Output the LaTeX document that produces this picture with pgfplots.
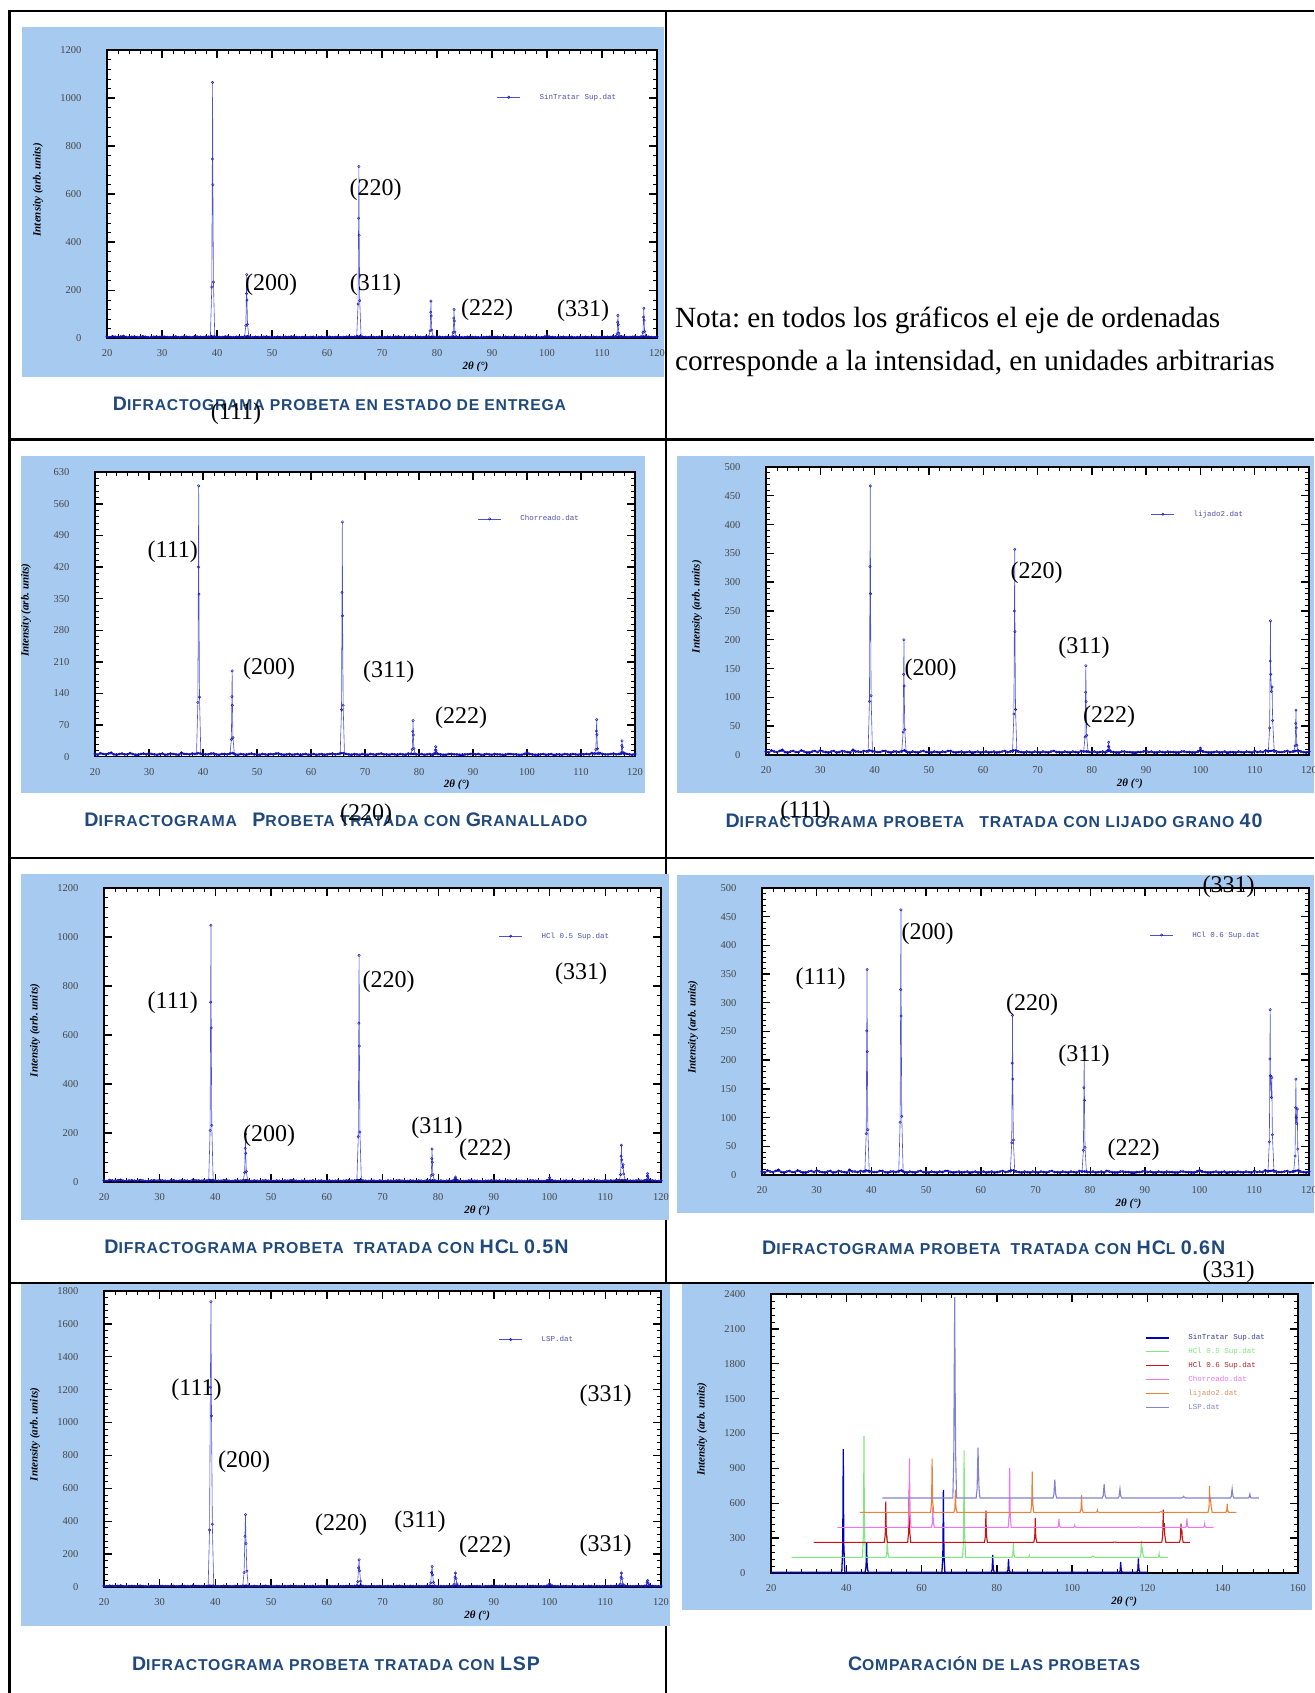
\documentclass[border=0pt]{standalone}
\usepackage{fontspec}
\setmainfont{Liberation Serif}
\setsansfont{Liberation Sans}
\setmonofont{Liberation Mono}
\newfontfamily\capfont{Liberation Sans}[LetterSpace=5]
\usepackage{graphicx}
\usepackage{pgfplots}
\usepackage{pgfplotstable}
\pgfplotsset{compat=1.18}
\definecolor{bgblue}{RGB}{166,202,240}
\definecolor{capblue}{RGB}{31,73,125}
\definecolor{xrdline}{RGB}{80,80,215}
\definecolor{xrdmark}{RGB}{20,20,190}
\definecolor{xrdbase}{RGB}{10,10,170}
\definecolor{legtext}{RGB}{80,80,170}
\definecolor{ticktext}{RGB}{70,70,70}
\definecolor{cA}{RGB}{0,0,190}
\definecolor{cB}{RGB}{130,230,130}
\definecolor{cC}{RGB}{200,20,20}
\definecolor{cD}{RGB}{235,120,235}
\definecolor{cE}{RGB}{235,130,60}
\definecolor{cF}{RGB}{130,130,210}
\definecolor{tA}{RGB}{60,60,150}
\definecolor{tC}{RGB}{170,40,40}
\definecolor{tE}{RGB}{210,150,100}
\newcommand{\capbig}[1]{{\fontsize{18}{20}\selectfont #1}}

\pgfplotstableread[row sep=\\]{x y\\
20 6\\ 20.5 4\\ 21 8\\ 21.5 6\\ 22 5\\ 22.5 7\\ 23 9\\ 23.5 5\\ 24 4\\ 24.5 6\\ 25 7\\ 25.5 5\\ 26 5\\ 26.5 8\\ 27 6\\ 27.5 4\\ 28 4\\ 28.5 6\\ 29 7\\ 29.5 5\\
30 8\\ 30.5 6\\ 31 5\\ 31.5 4\\ 32 6\\ 32.5 7\\ 33 4\\ 33.5 5\\ 34 7\\ 34.5 6\\ 35 5\\ 35.5 4\\ 36 9\\ 36.5 6\\ 37 6\\ 37.5 5\\ 38 7\\ 38.5 6\\ 39 8\\ 39.5 7\\
40 6\\ 40.5 5\\ 41 5\\ 41.5 7\\ 42 7\\ 42.5 5\\ 43 4\\ 43.5 6\\ 44 6\\ 44.5 5\\ 45 7\\ 45.5 8\\ 46 5\\ 46.5 4\\ 47 6\\ 47.5 5\\ 48 4\\ 48.5 6\\ 49 7\\ 49.5 5\\
50 5\\ 50.5 4\\ 51 6\\ 51.5 5\\ 52 4\\ 52.5 6\\ 53 5\\ 53.5 7\\ 54 7\\ 54.5 5\\ 55 4\\ 55.5 5\\ 56 6\\ 56.5 4\\ 57 5\\ 57.5 6\\ 58 3\\ 58.5 5\\ 59 6\\ 59.5 4\\
60 5\\ 60.5 6\\ 61 4\\ 61.5 5\\ 62 6\\ 62.5 4\\ 63 5\\ 63.5 6\\ 64 7\\ 64.5 5\\ 65 6\\ 65.5 8\\ 66 8\\ 66.5 6\\ 67 5\\ 67.5 4\\ 68 6\\ 68.5 5\\ 69 4\\ 69.5 6\\
70 5\\ 70.5 4\\ 71 6\\ 71.5 5\\ 72 4\\ 72.5 6\\ 73 7\\ 73.5 5\\ 74 5\\ 74.5 4\\ 75 6\\ 75.5 5\\ 76 4\\ 76.5 6\\ 77 5\\ 77.5 4\\ 78 7\\ 78.5 6\\ 79 6\\ 79.5 5\\
80 5\\ 80.5 6\\ 81 4\\ 81.5 5\\ 82 6\\ 82.5 4\\ 83 7\\ 83.5 6\\ 84 5\\ 84.5 4\\ 85 4\\ 85.5 6\\ 86 6\\ 86.5 5\\ 87 5\\ 87.5 4\\ 88 3\\ 88.5 5\\ 89 5\\ 89.5 6\\
90 7\\ 90.5 5\\ 91 6\\ 91.5 4\\ 92 4\\ 92.5 6\\ 93 5\\ 93.5 4\\ 94 6\\ 94.5 5\\ 95 5\\ 95.5 4\\ 96 4\\ 96.5 6\\ 97 6\\ 97.5 5\\ 98 5\\ 98.5 4\\ 99 4\\ 99.5 6\\
100 8\\ 100.5 6\\ 101 5\\ 101.5 4\\ 102 4\\ 102.5 5\\ 103 6\\ 103.5 4\\ 104 5\\ 104.5 6\\ 105 3\\ 105.5 5\\ 106 5\\ 106.5 4\\ 107 6\\ 107.5 5\\ 108 4\\ 108.5 6\\ 109 5\\ 109.5 4\\
110 7\\ 110.5 5\\ 111 6\\ 111.5 5\\ 112 8\\ 112.5 7\\ 113 7\\ 113.5 8\\ 114 6\\ 114.5 5\\ 115 5\\ 115.5 6\\ 116 7\\ 116.5 5\\ 117 6\\ 117.5 7\\ 118 8\\ 118.5 6\\ 119 5\\ 119.5 4\\ 120 6\\
}\base

% SinTratar Sup.dat
\pgfplotstableread[row sep=\\]{x y\\
20 6\\
38.8 6\\ 39.05 213\\ 39.15 746\\ 39.2 1065\\ 39.25 639\\ 39.35 234\\ 39.6 6\\
45.0 6\\ 45.25 53\\ 45.35 186\\ 45.4 265\\ 45.45 159\\ 45.55 58\\ 45.8 6\\
65.4 6\\ 65.65 143\\ 65.75 500\\ 65.8 715\\ 65.85 429\\ 65.95 157\\ 66.2 6\\
78.5 6\\ 78.75 31\\ 78.85 109\\ 78.9 155\\ 78.95 93\\ 79.05 34\\ 79.3 6\\
82.7 6\\ 82.95 24\\ 83.05 84\\ 83.1 120\\ 83.15 72\\ 83.25 26\\ 83.5 6\\
99.6 6\\ 100 12\\ 100.4 6\\
112.5 6\\ 112.75 19\\ 112.85 67\\ 112.9 95\\ 112.95 57\\ 113.05 21\\ 113.3 6\\
117.2 6\\ 117.45 25\\ 117.55 88\\ 117.6 125\\ 117.65 75\\ 117.75 28\\ 118 6\\
120 6\\
}\tabA

% Chorreado.dat
\pgfplotstableread[row sep=\\]{x y\\
20 6\\
38.8 6\\ 39.05 120\\ 39.15 420\\ 39.2 600\\ 39.25 360\\ 39.35 132\\ 39.6 6\\
45.0 6\\ 45.25 38\\ 45.35 133\\ 45.4 190\\ 45.45 114\\ 45.55 42\\ 45.8 6\\
65.4 6\\ 65.65 104\\ 65.75 364\\ 65.8 520\\ 65.85 312\\ 65.95 114\\ 66.2 6\\
78.5 6\\ 78.75 16\\ 78.85 56\\ 78.9 80\\ 78.95 48\\ 79.05 18\\ 79.3 6\\
82.7 6\\ 82.95 8\\ 83.05 15\\ 83.1 22\\ 83.15 14\\ 83.25 9\\ 83.5 6\\
99.6 6\\ 100 10\\ 100.4 6\\
112.5 6\\ 112.75 16\\ 112.85 57\\ 112.9 82\\ 112.95 49\\ 113.05 18\\ 113.3 6\\
117.2 6\\ 117.45 9\\ 117.55 25\\ 117.6 35\\ 117.65 21\\ 117.75 10\\ 118 6\\
120 6\\
}\tabB

% lijado2.dat
\pgfplotstableread[row sep=\\]{x y\\
20 6\\
38.8 6\\ 39.05 93\\ 39.15 327\\ 39.2 467\\ 39.25 280\\ 39.35 103\\ 39.6 6\\
45.0 6\\ 45.25 40\\ 45.35 140\\ 45.4 200\\ 45.45 120\\ 45.55 44\\ 45.8 6\\
65.4 6\\ 65.65 71\\ 65.75 250\\ 65.8 357\\ 65.85 214\\ 65.95 79\\ 66.2 6\\
78.5 6\\ 78.75 31\\ 78.85 109\\ 78.9 155\\ 78.95 93\\ 79.05 34\\ 79.3 6\\
82.7 6\\ 82.95 8\\ 83.05 15\\ 83.1 22\\ 83.15 14\\ 83.25 9\\ 83.5 6\\
99.6 6\\ 100 12\\ 100.4 6\\
112.5 6\\ 112.75 47\\ 112.85 163\\ 112.9 233\\ 112.95 140\\ 113.1 110\\ 113.2 118\\ 113.3 60\\ 113.6 6\\
117.2 6\\ 117.45 16\\ 117.55 55\\ 117.6 78\\ 117.65 47\\ 117.75 17\\ 118 6\\
120 6\\
}\tabC

% HCl 0.5 Sup.dat
\pgfplotstableread[row sep=\\]{x y\\
20 6\\
38.8 6\\ 39.05 210\\ 39.15 734\\ 39.2 1048\\ 39.25 629\\ 39.35 231\\ 39.6 6\\
45.0 6\\ 45.25 39\\ 45.35 137\\ 45.4 195\\ 45.45 117\\ 45.55 43\\ 45.8 6\\
65.4 6\\ 65.65 185\\ 65.75 648\\ 65.8 925\\ 65.85 555\\ 65.95 204\\ 66.2 6\\
78.5 6\\ 78.75 27\\ 78.85 95\\ 78.9 135\\ 78.95 81\\ 79.05 30\\ 79.3 6\\
82.7 6\\ 82.95 8\\ 83.05 14\\ 83.1 20\\ 83.15 12\\ 83.25 8\\ 83.5 6\\
99.6 6\\ 100 18\\ 100.4 6\\
112.5 6\\ 112.75 30\\ 112.85 105\\ 112.9 150\\ 112.95 90\\ 113.1 60\\ 113.2 70\\ 113.3 33\\ 113.6 6\\
117.2 6\\ 117.45 9\\ 117.55 25\\ 117.6 35\\ 117.65 21\\ 117.75 10\\ 118 6\\
120 6\\
}\tabD

% HCl 0.6 Sup.dat
\pgfplotstableread[row sep=\\]{x y\\
20 6\\
38.8 6\\ 39.05 72\\ 39.15 251\\ 39.2 358\\ 39.25 215\\ 39.35 79\\ 39.6 6\\
45.0 6\\ 45.25 92\\ 45.35 323\\ 45.4 462\\ 45.45 277\\ 45.55 102\\ 45.8 6\\
65.4 6\\ 65.65 56\\ 65.75 195\\ 65.8 278\\ 65.85 167\\ 65.95 61\\ 66.2 6\\
78.5 6\\ 78.75 43\\ 78.85 152\\ 78.9 217\\ 78.95 130\\ 79.05 48\\ 79.3 6\\
99.6 6\\ 100 8\\ 100.4 6\\
112.5 6\\ 112.75 58\\ 112.85 202\\ 112.9 288\\ 112.95 173\\ 113.1 135\\ 113.2 170\\ 113.3 70\\ 113.6 6\\
117.2 6\\ 117.45 33\\ 117.55 117\\ 117.6 167\\ 117.65 100\\ 117.75 90\\ 117.85 115\\ 117.95 45\\ 118.2 6\\
120 6\\
}\tabE

% LSP.dat
\pgfplotstableread[row sep=\\]{x y\\
20 6\\
38.7 6\\ 38.95 347\\ 39.1 1215\\ 39.2 1735\\ 39.3 1041\\ 39.45 382\\ 39.7 6\\
44.9 6\\ 45.15 88\\ 45.3 308\\ 45.4 440\\ 45.5 264\\ 45.65 97\\ 45.9 6\\
65.3 6\\ 65.55 33\\ 65.7 116\\ 65.8 165\\ 65.9 99\\ 66.05 36\\ 66.3 6\\
78.4 6\\ 78.65 25\\ 78.8 88\\ 78.9 125\\ 79.0 75\\ 79.15 28\\ 79.4 6\\
82.6 6\\ 82.85 17\\ 83.0 60\\ 83.1 85\\ 83.2 51\\ 83.35 19\\ 83.6 6\\
99.5 6\\ 99.8 12\\ 100 20\\ 100.2 12\\ 100.5 6\\
112.4 6\\ 112.65 17\\ 112.8 60\\ 112.9 85\\ 113.0 51\\ 113.15 19\\ 113.4 6\\
117.1 6\\ 117.35 8\\ 117.5 28\\ 117.6 40\\ 117.7 24\\ 117.85 9\\ 118.1 6\\
120 6\\
}\tabF

\pgfplotsset{
 xrdaxis/.style={
  scale only axis,
  axis background/.style={fill=white},
  tick align=inside,
  major tick length=8pt,
  minor tick length=4pt,
  every major tick/.append style={line width=1.4pt,black},
  every minor tick/.append style={line width=0.6pt,black},
  axis line style={line width=1.6pt},
  minor x tick num=4, minor y tick num=4,
  tick label style={font=\fontsize{10.5}{12}\selectfont, text=ticktext},
  yticklabel style={xshift=-22pt},
  xticklabel style={yshift=-8.2pt},
  /pgf/number format/assume math mode=true,
  /pgf/number format/1000 sep={},
  scaled ticks=false,
  xlabel={\textbf{\textit{2θ (°)}}},
  ylabel={\textbf{\textit{Intensity (arb. units)}}},
  label style={font=\fontsize{11}{13}\selectfont},
  xlabel style={at={(axis description cs:0.67,0)}, anchor=center, yshift=-28.5pt},
  legend style={draw=none, fill=none, inner sep=0pt, outer sep=0pt,
    font=\fontsize{7.5}{9}\selectfont\ttfamily, text=legtext, nodes={inner sep=0pt}},
  legend cell align=left,
  legend image code/.code={\draw[mark repeat=2,mark phase=2,##1] plot coordinates {(0pt,0pt) (11.5pt,0pt) (23pt,0pt)}; \path (42pt,0pt);},
 },
 single/.style={xrdaxis, xmin=20, xmax=120, xtick={20,30,...,120}, ymin=0,
   legend style={at={(axis description cs:0.709,0.836)}, anchor=west}},
 xrd/.style={color=xrdline, line width=0.6pt, mark=o, mark size=1.2pt, mark options={color=xrdmark, line width=0.45pt}},
 xrdb/.style={color=xrdbase, line width=1.6pt, mark=o, mark size=1.1pt, mark options={line width=0.45pt}},
}

\begin{document}
\frenchspacing
\begin{tikzpicture}[x=1pt,y=1pt]
\path[use as bounding box] (0,0) rectangle (1314,1693);
% table grid
\draw[line width=2.2pt] (1314,1682) -- (9.5,1682) -- (9.5,0);
\draw[line width=2.2pt] (666,1682) -- (666,0);
\draw[line width=2.2pt] (9.5,1253.5) -- (1314,1253.5);
\draw[line width=2.2pt] (9.5,835) -- (1314,835);
\draw[line width=2.2pt] (9.5,410) -- (1314,410);
% chart backgrounds
\fill[bgblue] (21.6,1316) rectangle (664,1666);
\fill[bgblue] (21,900) rectangle (645,1237);
\fill[bgblue] (677,900) rectangle (1314,1237);
\fill[bgblue] (21,473) rectangle (669,819);
\fill[bgblue] (677,480) rectangle (1314,818);
\fill[bgblue] (21,67) rectangle (670,408.8);
\fill[bgblue] (682,83) rectangle (1312,408.8);

% 1 Entrega
\begin{axis}[single, at={(107pt,1354.7pt)}, anchor=south west, width=550pt, height=288.3pt,
  ymax=1200, ytick={0,200,...,1200},
  ylabel style={at={(axis description cs:-0.1255,0.515)}, anchor=center}]
\addplot[xrdb, forget plot] table {\base};
\addplot[xrd] table {\tabA};
\addlegendentry{SinTratar Sup.dat}
\end{axis}

% 2 Granallado
\begin{axis}[single, at={(95pt,936.3pt)}, anchor=south west, width=540pt, height=284.4pt,
  ymax=630, ytick={0,70,...,630},
  ylabel style={at={(axis description cs:-0.1278,0.515)}, anchor=center}]
\addplot[xrdb, forget plot] table {\base};
\addplot[xrd] table {\tabB};
\addlegendentry{Chorreado.dat}
\end{axis}

% 3 Lijado
\begin{axis}[single, at={(766pt,938pt)}, anchor=south west, width=543pt, height=288pt,
  ymax=500, ytick={0,50,...,500},
  ylabel style={at={(axis description cs:-0.1271,0.515)}, anchor=center}]
\addplot[xrdb, forget plot] table {\base};
\addplot[xrd] table {\tabC};
\addlegendentry{lijado2.dat}
\end{axis}

% 4 HCl 0.5
\begin{axis}[single, at={(104pt,511pt)}, anchor=south west, width=557pt, height=294pt,
  ymax=1200, ytick={0,200,...,1200},
  ylabel style={at={(axis description cs:-0.1239,0.515)}, anchor=center}]
\addplot[xrdb, forget plot] table {\base};
\addplot[xrd] table {\tabD};
\addlegendentry{HCl 0.5 Sup.dat}
\end{axis}

% 5 HCl 0.6
\begin{axis}[single, at={(762pt,518pt)}, anchor=south west, width=547pt, height=287pt,
  ymax=500, ytick={0,50,...,500},
  ylabel style={at={(axis description cs:-0.1261,0.515)}, anchor=center}]
\addplot[xrdb, forget plot] table {\base};
\addplot[xrd] table {\tabE};
\addlegendentry{HCl 0.6 Sup.dat}
\end{axis}

% 6 LSP
\begin{axis}[single, at={(104pt,106pt)}, anchor=south west, width=557pt, height=296pt,
  ymax=1800, ytick={0,200,...,1800},
  ylabel style={at={(axis description cs:-0.1239,0.515)}, anchor=center}]
\addplot[xrdb, forget plot] table {\base};
\addplot[xrd] table {\tabF};
\addlegendentry{LSP.dat}
\end{axis}

% 7 Comparison
\begin{axis}[xrdaxis, at={(771pt,120pt)}, anchor=south west, width=527pt, height=279pt,
  xmin=20, xmax=160, xtick={20,40,...,160}, ymin=0, ymax=2400, ytick={0,300,...,2400},
  ylabel style={at={(axis description cs:-0.1309,0.515)}, anchor=center},
  legend style={at={(axis description cs:0.71,0.855)}, anchor=north west, row sep=6.9pt,
    nodes={inner sep=0pt, text height=5.5pt, text depth=1.5pt}}]
\addplot[cA, line width=1.3pt, mark=none] table {\tabA};
\addlegendentry{\textcolor{tA}{SinTratar Sup.dat}}
\addplot[cB, line width=1.1pt, mark=none] table[x expr=\thisrow{x}+5.5, y expr=\thisrow{y}+129] {\tabD};
\addlegendentry{\textcolor{cB}{HCl 0.5 Sup.dat}}
\addplot[cC, line width=1.1pt, mark=none] table[x expr=\thisrow{x}+11.3, y expr=\thisrow{y}+258] {\tabE};
\addlegendentry{\textcolor{tC}{HCl 0.6 Sup.dat}}
\addplot[cD, line width=1.1pt, mark=none] table[x expr=\thisrow{x}+17.6, y expr=\thisrow{y}+387] {\tabB};
\addlegendentry{\textcolor{cD}{Chorreado.dat}}
\addplot[cE, line width=1.1pt, mark=none] table[x expr=\thisrow{x}+23.6, y expr=\thisrow{y}+516] {\tabC};
\addlegendentry{\textcolor{tE}{lijado2.dat}}
\addplot[cF, line width=1.1pt, mark=none] table[x expr=\thisrow{x}+29.6, y expr=\thisrow{y}+639] {\tabF};
\addlegendentry{\textcolor{cF}{LSP.dat}}
\end{axis}

% Nota
\node[anchor=west, font=\fontsize{29.3}{33}\selectfont] at (671.5,1372.3) {Nota: en todos los gráficos el eje de ordenadas};
\node[anchor=west, font=\fontsize{29.3}{33}\selectfont] at (671.5,1329.1) {corresponde a la intensidad, en unidades arbitrarias};

% captions
\begin{scope}[every node/.style={text=capblue, font=\capfont\bfseries\fontsize{14.5}{16}\selectfont, inner sep=0pt}]
\node at (339.5,1289) {\resizebox{453pt}{!}{\capbig{D}IFRACTOGRAMA PROBETA EN ESTADO DE ENTREGA}};
\node at (336,873) {\resizebox{503pt}{!}{\capbig{D}IFRACTOGRAMA\hspace{14pt}\capbig{P}ROBETA TRATADA CON \capbig{G}RANALLADO}};
\node at (994,872.3) {\resizebox{537pt}{!}{\capbig{D}IFRACTOGRAMA PROBETA\hspace{14pt}TRATADA CON LIJADO GRANO \capbig{40}}};
\node at (336.5,446) {\resizebox{464pt}{!}{\capbig{D}IFRACTOGRAMA PROBETA\hspace{9pt}TRATADA CON \capbig{HC}L \capbig{0.5N}}};
\node at (993.7,445) {\resizebox{463pt}{!}{\capbig{D}IFRACTOGRAMA PROBETA\hspace{9pt}TRATADA CON \capbig{HC}L \capbig{0.6N}}};
\node at (336,29.7) {\resizebox{408pt}{!}{\capbig{D}IFRACTOGRAMA PROBETA TRATADA CON \capbig{LSP}}};
\node at (994,29.7) {\resizebox{292pt}{!}{\capbig{C}OMPARACIÓN DE LAS PROBETAS}};
\end{scope}

% peak labels
\begin{scope}[every node/.style={font=\fontsize{24}{28}\selectfont, inner sep=0pt}]
\node at (375.5,1503) {(220)};
\node at (271,1408) {(200)};
\node at (375.5,1408) {(311)};
\node at (487,1383) {(222)};
\node at (583,1382) {(331)};
\node at (236,1279) {(111)};
\node at (172.8,1141.3) {(111)};
\node at (269,1024) {(200)};
\node at (388.7,1021.4) {(311)};
\node at (461,975) {(222)};
\node at (366,878) {(220)};
\node at (1036.5,1120) {(220)};
\node at (930.7,1023.6) {(200)};
\node at (1084,1045) {(311)};
\node at (1109,976) {(222)};
\node at (805.5,881) {(111)};
\node at (172.8,690) {(111)};
\node at (388.7,711.5) {(220)};
\node at (581,719) {(331)};
\node at (269,557) {(200)};
\node at (437,565) {(311)};
\node at (485,543) {(222)};
\node at (1228.7,806.6) {(331)};
\node at (927.5,759) {(200)};
\node at (820.6,714) {(111)};
\node at (1032,688) {(220)};
\node at (1084,637) {(311)};
\node at (1133.7,543) {(222)};
\node at (1228.7,421) {(331)};
\node at (196.5,303.4) {(111)};
\node at (605.7,297) {(331)};
\node at (244,231) {(200)};
\node at (341,168.5) {(220)};
\node at (420,171) {(311)};
\node at (485,146) {(222)};
\node at (605.7,147) {(331)};
\end{scope}
\end{tikzpicture}
\end{document}
